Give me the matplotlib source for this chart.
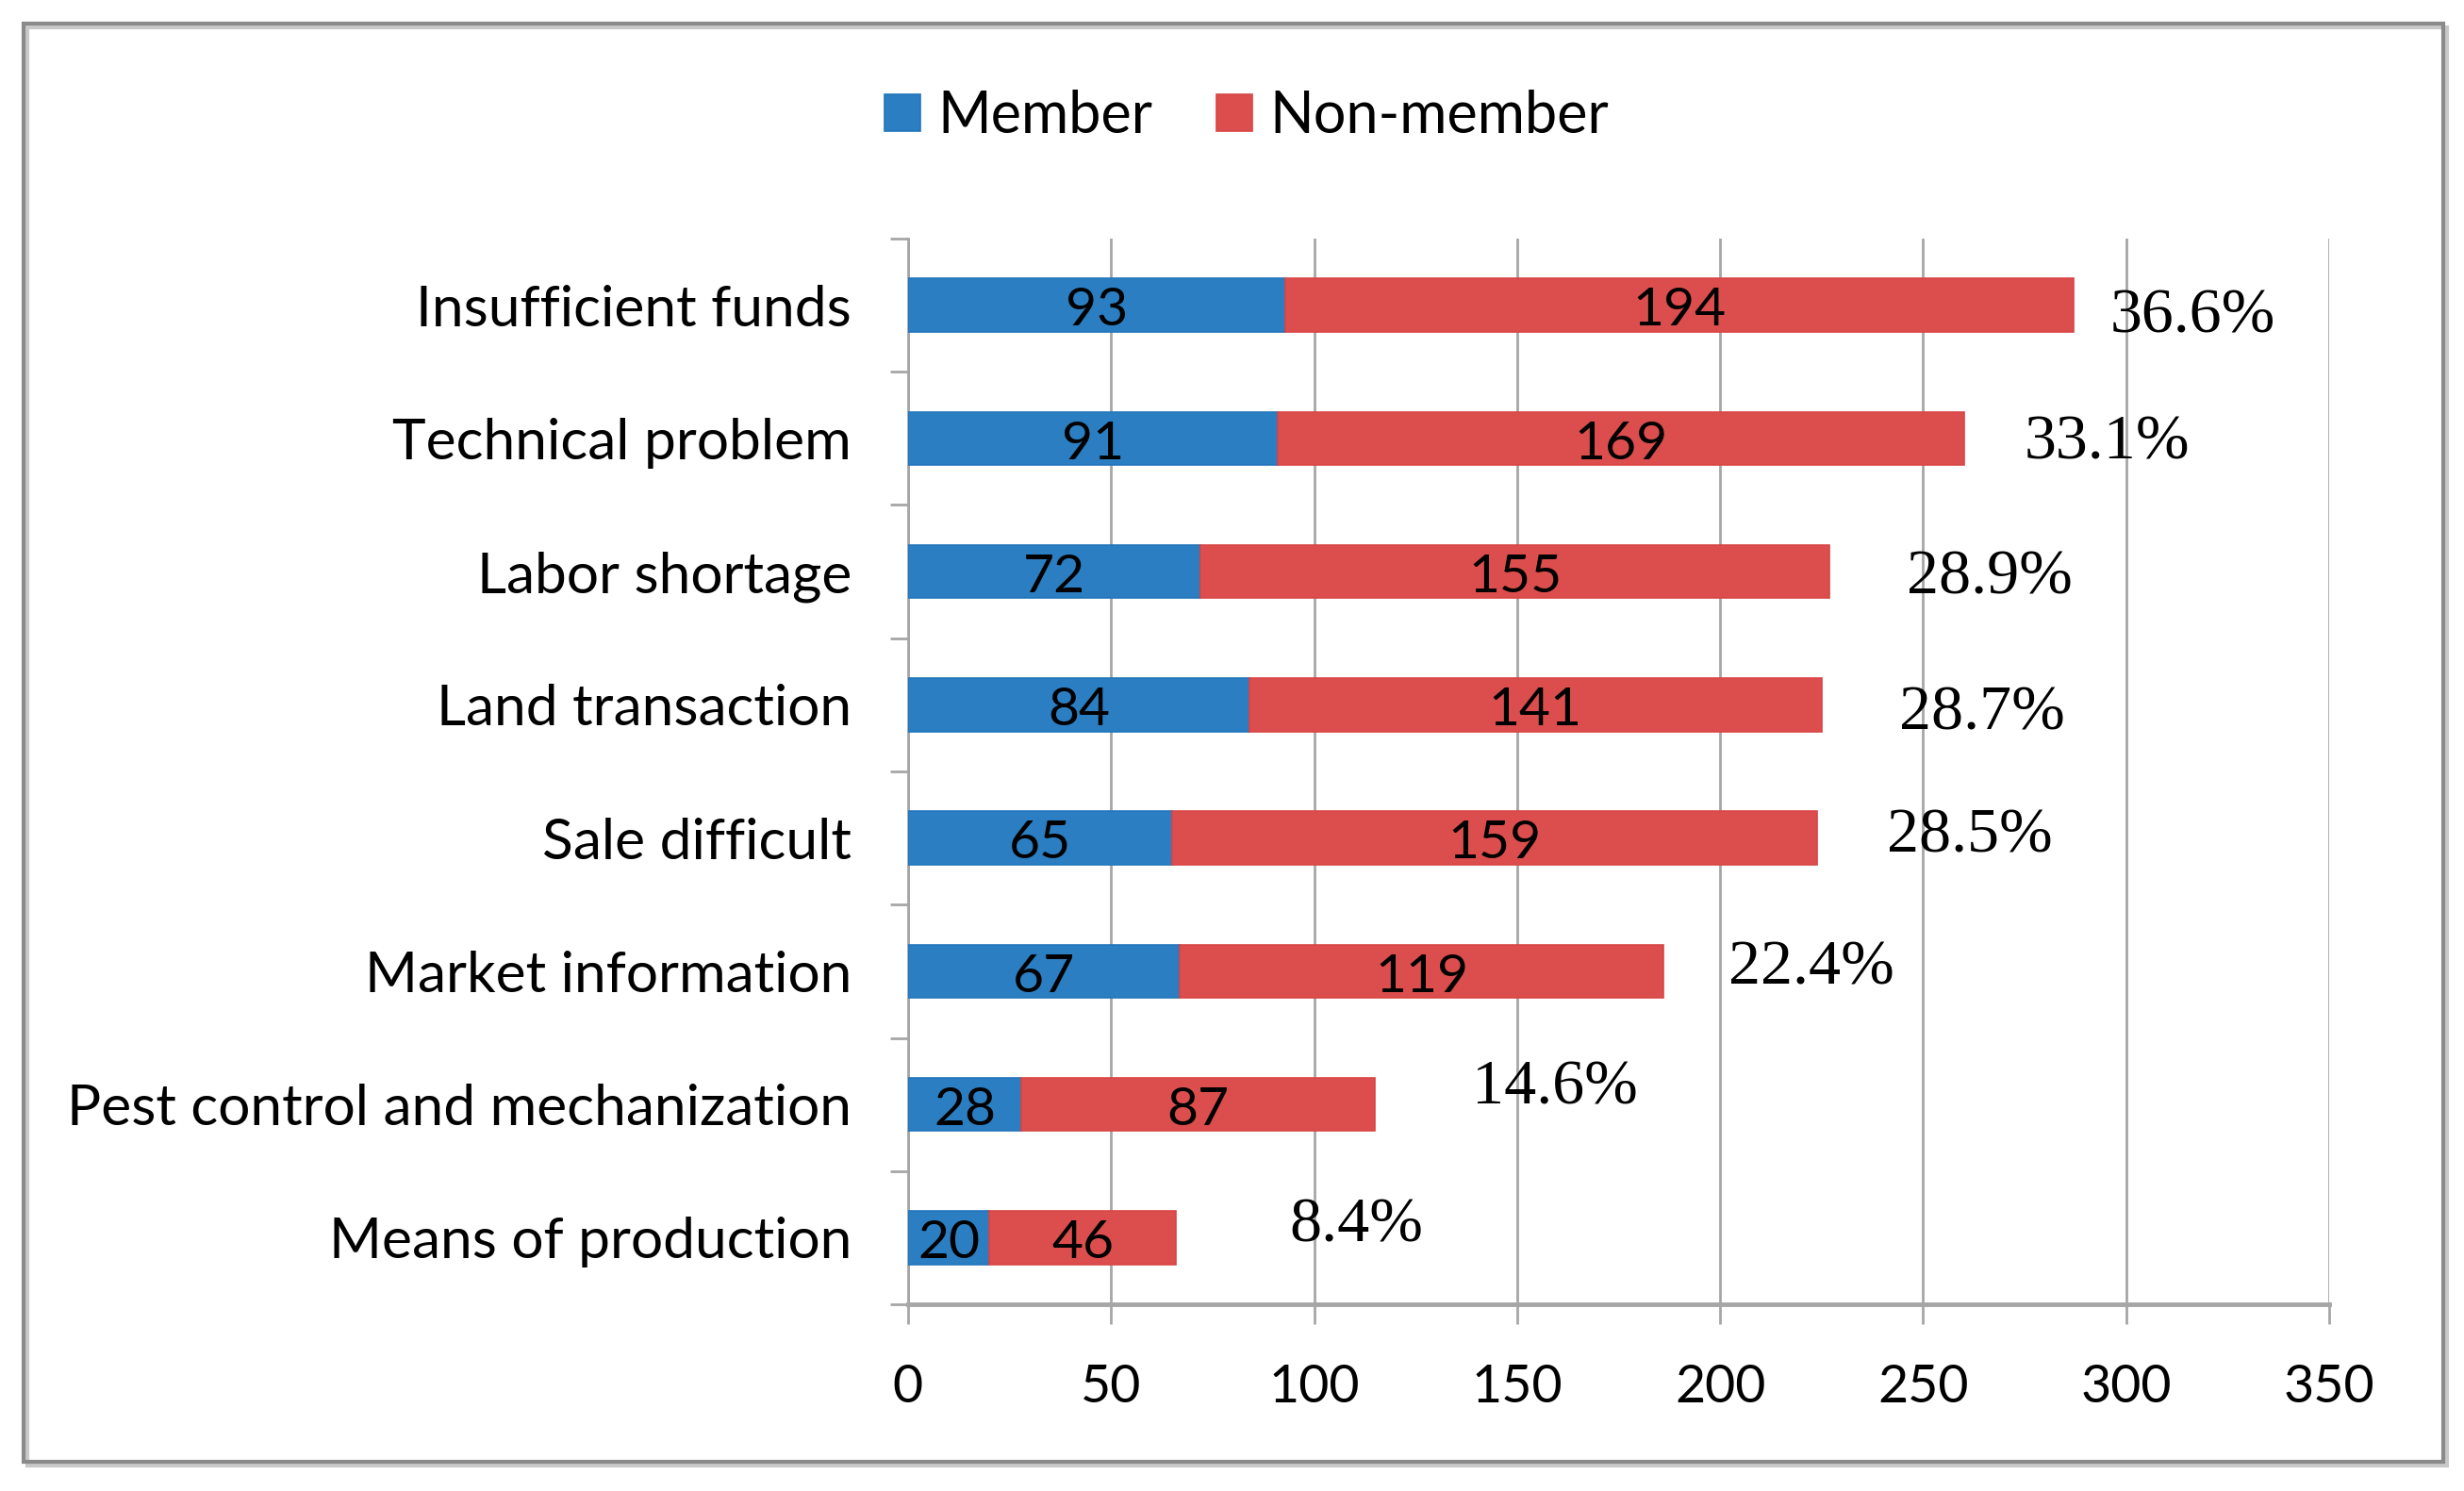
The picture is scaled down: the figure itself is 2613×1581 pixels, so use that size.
import numpy as np
import matplotlib.pyplot as plt
from matplotlib.patches import Rectangle

# 数据
categories = ['Insufficient funds', 'Technical problem', 'Labor shortage',
              'Land transaction', 'Sale difficult', 'Market information',
              'Pest control and mechanization', 'Means of production']
member = [93, 91, 72, 84, 65, 67, 28, 20]
non_member = [194, 169, 155, 141, 159, 119, 87, 46]
pct_labels = ['36.6%', '33.1%', '28.9%', '28.7%', '28.5%', '22.4%', '14.6%', '8.4%']

# 百分比标签的手动偏移(x: 数据单位, y: 类别单位)
pct_gap = [9, 15, 19, 19, 17, 16, 24, 28]
pct_dy = [0.09, 0.035, 0.05, 0.07, -0.01, -0.02, -0.12, -0.09]

blue = '#2B7EC1'
red = '#DC4D4D'
grey = '#a6a6a6'
sans = ['Lato', 'DejaVu Sans']

fig = plt.figure(figsize=(26.13, 15.81), dpi=100)
ax = fig.add_axes([0.3685, 0.1252, 0.9453 - 0.3685, 0.840 - 0.1252])

y = np.arange(len(categories))
member = np.array(member)
non_member = np.array(non_member)
totals = member + non_member

b1 = ax.barh(y, member, height=0.4, color=blue, edgecolor='#2275bb', linewidth=1.2,
             label='Member', zorder=3)
b2 = ax.barh(y, non_member, left=member, height=0.4, color=red, edgecolor='#d94545',
             linewidth=1.2, label='Non-member', zorder=3)

for i in range(len(categories)):
    ax.text(member[i] / 2, y[i] + 0.045, str(member[i]), ha='center', va='center',
            fontsize=41, family=sans, zorder=4)
    ax.text(member[i] + non_member[i] / 2, y[i] + 0.045, str(non_member[i]),
            ha='center', va='center', fontsize=41, family=sans, zorder=4)
    ax.text(totals[i] + pct_gap[i], y[i] + pct_dy[i], pct_labels[i], ha='left',
            va='center', fontsize=49, family=['Liberation Serif', 'DejaVu Serif'],
            zorder=4)

ax.set_xlim(0, 350)
ax.set_ylim(len(categories) - 0.5, -0.5)
ax.set_xticks(np.arange(0, 351, 50))
ax.set_yticks(y)
ax.set_yticklabels(categories, family=sans, fontsize=43.5)
ax.set_yticks(np.arange(-0.5, len(categories)), minor=True)
for lab in ax.get_xticklabels():
    lab.set_family(sans)
    lab.set_fontsize(40)

ax.grid(axis='x', color=grey, linewidth=2, zorder=0)
ax.tick_params(axis='x', direction='out', length=15, width=2, color=grey, pad=30)
ax.tick_params(axis='y', which='major', length=0, pad=43)
ax.tick_params(axis='y', which='minor', direction='out', length=13.5, width=2, color=grey)

for s in ['top', 'right']:
    ax.spines[s].set_visible(False)
ax.spines['left'].set_color(grey)
ax.spines['left'].set_linewidth(2)
ax.spines['bottom'].set_color(grey)
ax.spines['bottom'].set_linewidth(3.5)

fig.legend(handles=[b1, b2], loc='center', bbox_to_anchor=(0.506, 0.922), ncol=2,
           frameon=False, prop={'family': sans, 'size': 44}, handlelength=0.62,
           handleheight=0.62, handletextpad=0.3, columnspacing=1.1)

# 外框
W, H = 2613, 1581
fig.patches.append(Rectangle((29 / W, 1 - 1554 / H), 2566 / W, 1525 / H,
                             transform=fig.transFigure, fill=False,
                             edgecolor='#c8c8c8', linewidth=3, zorder=0))
fig.patches.append(Rectangle((25 / W, 1 - 1550 / H), 2566 / W, 1525 / H,
                             transform=fig.transFigure, fill=False,
                             edgecolor='#8a8a8a', linewidth=3, zorder=1))

fig.savefig('out.png', dpi=100, facecolor='white')
